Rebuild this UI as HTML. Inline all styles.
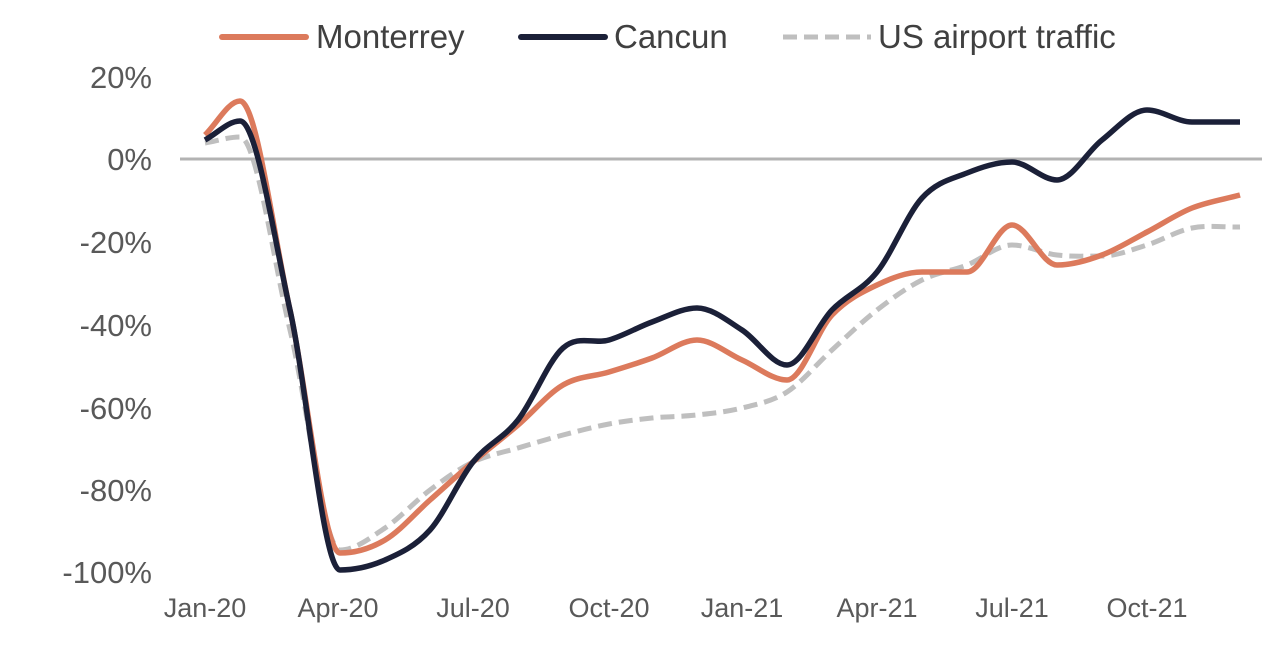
<!DOCTYPE html>
<html><head><meta charset="utf-8"><style>
html,body{margin:0;padding:0;background:#fff;}
svg{display:block;font-family:"Liberation Sans",Arial,sans-serif;}
</style></head><body>
<svg id="s" width="1280" height="646" viewBox="0 0 1280 646">
<line x1="180" y1="159" x2="1262" y2="159" stroke="#b3b3b3" stroke-width="3"/>
<g font-size="31" fill="#595959" text-anchor="end">
<text x="152" y="88">20%</text>
<text x="152" y="170">0%</text>
<text x="152" y="253">-20%</text>
<text x="152" y="336">-40%</text>
<text x="152" y="419">-60%</text>
<text x="152" y="501">-80%</text>
<text x="152" y="583">-100%</text>
</g>
<g font-size="27" fill="#595959" text-anchor="middle">
<text x="205" y="617">Jan-20</text>
<text x="338" y="617">Apr-20</text>
<text x="473" y="617">Jul-20</text>
<text x="609" y="617">Oct-20</text>
<text x="742" y="617">Jan-21</text>
<text x="877" y="617">Apr-21</text>
<text x="1012" y="617">Jul-21</text>
<text x="1147" y="617">Oct-21</text>
</g>
<g font-size="33" fill="#404040">
<line x1="222" y1="37" x2="306" y2="37" stroke="#dc7a5c" stroke-width="6" stroke-linecap="round"/>
<text x="316" y="48">Monterrey</text>
<line x1="521" y1="37" x2="605" y2="37" stroke="#1b2038" stroke-width="6" stroke-linecap="round"/>
<text x="614" y="48">Cancun</text>
<line x1="783" y1="37" x2="871" y2="37" stroke="#bfbfbf" stroke-width="5" stroke-dasharray="14,7"/>
<text x="878" y="48">US airport traffic</text>
</g>
<path id="us" fill="none" stroke="#bfbfbf" stroke-width="5" stroke-dasharray="14,7"/>
<path id="mo" fill="none" stroke="#dc7a5c" stroke-width="5.5"/>
<path id="ca" fill="none" stroke="#1b2038" stroke-width="5.5"/>
</svg>
<script>
var X=[205,240,290,340,385,430,473,518,563,609,652,697,742,787,832,877,922,967,1012,1057,1102,1147,1192,1240];
function path(Y){var p=X.map(function(x,i){return [x,Y[i]]});var n=p.length;var m=[];
for(var i=0;i<n;i++){var a=p[Math.max(i-1,0)],c=p[Math.min(i+1,n-1)];var s=(c[1]-a[1])/(c[0]-a[0]);
if(i>0&&i<n-1){var d1=p[i][1]-a[1],d2=c[1]-p[i][1];if(d1*d2<=0)s=0;}m.push(s);}
var d="M"+p[0];
for(var i=0;i<n-1;i++){var b=p[i],c=p[i+1],h=(c[0]-b[0])/3;
d+=" C"+[b[0]+h,b[1]+m[i]*h]+" "+[c[0]-h,c[1]-m[i+1]*h]+" "+c;}return d;}
document.getElementById("mo").setAttribute("d",path([135,101,310,553,540,500,462,425,385,372,358,340,360,380,315,285,272,272,225,265,255,232,208,195]));
document.getElementById("ca").setAttribute("d",path([140,121,310,570,560,530,462,420,348,340,322,308,330,365,310,272,198,173,162,180,140,110,122,122]));
document.getElementById("us").setAttribute("d",path([143,137,330,550,528,490,462,448,435,424,418,415,408,392,350,310,280,265,245,255,256,245,228,227]));
</script>
</body></html>
